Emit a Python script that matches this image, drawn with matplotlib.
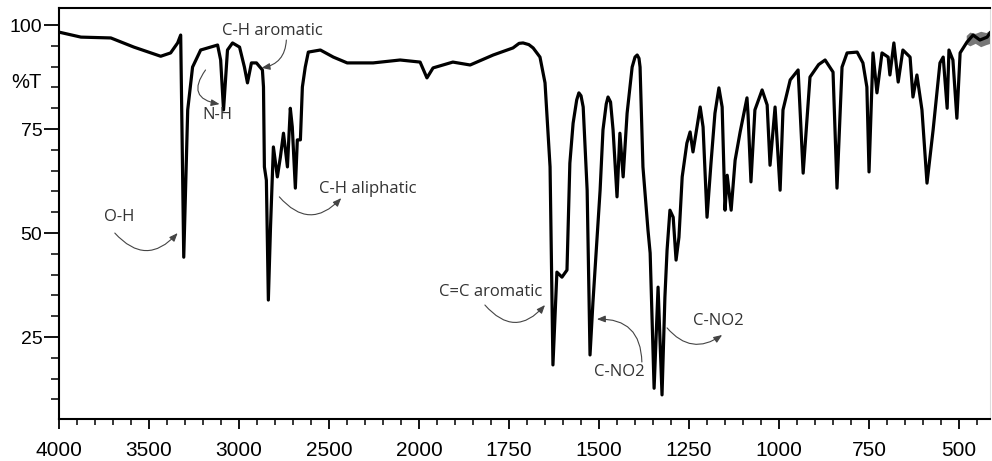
import matplotlib
matplotlib.use("Agg")
import matplotlib.pyplot as plt
import matplotlib.transforms as mtransforms
from matplotlib.ticker import FixedLocator, NullFormatter
import numpy as np

# Spectre IR (nombre d'onde en cm-1, transmittance en %)
nombre_onde = [4000, 3878, 3712, 3584, 3435, 3380, 3341, 3324, 3307, 3285,
               3258, 3213, 3119, 3102, 3086, 3064, 3036, 2997, 2970, 2953,
               2931, 2903, 2870, 2864, 2859, 2848, 2837, 2825, 2809, 2787,
               2770, 2753, 2731, 2715, 2704, 2687, 2676, 2659, 2648, 2632,
               2615, 2548, 2476, 2399, 2255, 2105, 1997, 1978, 1961, 1906,
               1858, 1794, 1739, 1722, 1711, 1695, 1683, 1664, 1650, 1636, 1628, 1617,
               1603, 1589, 1581, 1572, 1562, 1556, 1550, 1544, 1533, 1525, 1517, 1497,
               1489, 1480, 1475, 1468, 1461, 1450, 1442, 1433, 1422, 1408, 1400, 1394, 1389, 1386,
               1378, 1364, 1358, 1347, 1336, 1325, 1317, 1311, 1303, 1294,
               1286, 1278, 1269, 1256, 1247, 1239, 1228, 1219, 1211, 1200,
               1189, 1178, 1167, 1158, 1150, 1144, 1133, 1122, 1108, 1089,
               1086, 1078, 1067, 1047, 1033, 1025, 1011, 997, 989, 969,
               947, 933, 914, 890, 872, 850, 839, 825, 811, 783, 767,
               756, 750, 742, 739, 728, 714, 697, 692, 681, 669,
               656, 636, 628, 617, 603, 589, 572, 553, 544, 533,
               528, 517, 506, 497, 478, 461, 442, 422, 414]
transmittance = [98.3, 97.1, 96.9, 94.7, 92.5, 93.3, 95.7, 97.6, 44.2, 79.6,
                 89.9, 94.0, 95.2, 91.6, 79.6, 94.0, 95.7, 94.7, 89.9, 86.1,
                 90.9, 90.9, 89.2, 85.1, 65.9, 62.7, 33.9, 51.4, 70.7, 63.5,
                 68.3, 74.0, 65.9, 80.0, 75.5, 60.8, 72.4, 72.4, 85.1, 89.9,
                 93.5, 94.0, 92.3, 90.9, 90.9, 91.6, 91.1, 87.3, 89.7, 91.1,
                 90.4, 92.8, 94.5, 95.6, 95.7, 95.3, 94.5, 92.3, 86.1, 65.9, 18.3, 40.6,
                 39.4, 41.1, 66.8, 76.4, 82.0, 83.7, 83.0, 80.3, 60.3, 20.7, 33.2, 60.3,
                 74.8, 81.0, 82.7, 81.5, 74.8, 58.7, 74.0, 63.5, 78.8, 89.9, 92.3, 92.8, 92.0, 89.9,
                 65.9, 50.7, 45.2, 12.7, 37.0, 11.1, 34.6, 45.9, 55.5, 53.8,
                 43.5, 49.0, 63.5, 71.6, 74.3, 69.5, 75.5, 80.3, 75.5, 53.8,
                 66.8, 78.8, 84.9, 80.3, 55.5, 63.9, 55.5, 67.5, 74.3, 82.5,
                 78.4, 62.3, 79.6, 84.4, 80.8, 66.3, 80.3, 60.3, 79.6, 86.8,
                 89.2, 64.4, 87.5, 90.5, 91.6, 88.7, 60.8, 89.9, 93.3, 93.5, 90.9,
                 85.1, 64.7, 85.1, 93.3, 83.7, 93.3, 92.3, 88.0, 95.7, 86.3,
                 94.0, 92.3, 82.7, 88.0, 79.6, 62.0, 74.8, 90.9, 92.3, 80.0,
                 94.0, 91.6, 77.6, 93.3, 95.9, 97.6, 96.4, 97.1, 98.1]

# bande grise (bruit) en fin de spectre
bande_w = [480, 470, 455, 440, 425, 414]
bande_haut = [97.5, 98.3, 98.0, 98.5, 98.2, 98.8]
bande_bas = [95.5, 95.0, 95.6, 94.8, 95.3, 95.6]

# graduations
ticks_majeurs = [4000, 3500, 3000, 2500, 2000, 1750, 1500, 1250, 1000, 750, 500]
ticks_mineurs = list(range(4000, 2000, -100)) + list(range(2000, 449, -50))
ticks_y = [100, 75, 50, 25]
ticks_y_mineurs = list(range(10, 105, 5))

# annotations : texte, position du texte, debut fleche, fin fleche, courbure
labels = ["O-H", "N-H", "C-H aromatic", "C-H aliphatic", "C=C aromatic", "C-NO2", "C-NO2"]
pos_texte = [(3668, 53.8), (3119, 78.4), (2814, 98.6), (2283, 60.6), (1800, 35.8), (1444, 16.6), (1169, 28.8)]
debut_fleche = [(3690, 50.0), (3186, 89.2), (2737, 96.4), (2776, 58.7), (1817, 32.7), (1381, 19.0), (1311, 27.2)]
fin_fleche = [(3341, 50.0), (3108, 81.0), (2875, 89.7), (2432, 58.4), (1650, 32.7), (1506, 29.3), (1158, 25.5)]
courbure = [0.55, 0.8, -0.4, 0.55, 0.57, 0.5, 0.45]


def aller(w):
    w = np.asarray(w, dtype=float)
    return np.where(w <= 2000, w, 2000 + (w - 2000) * 0.5)


def retour(p):
    p = np.asarray(p, dtype=float)
    return np.where(p <= 2000, p, 2000 + (p - 2000) * 2.0)


police_axes = ['Liberation Sans', 'DejaVu Sans']
police_notes = ['Open Sans', 'Noto Sans', 'DejaVu Sans']

fig = plt.figure(figsize=(9.92, 4.61), dpi=100)
ax = fig.add_axes([59 / 992, 42 / 461, 931 / 992, 411 / 461])
ax.set_xscale('function', functions=(aller, retour))

ax.fill_between(bande_w, bande_bas, bande_haut, color='#777777', lw=0)
ax.plot(nombre_onde, transmittance, color='black', lw=2.3, solid_joinstyle='round')

ax.set_xlim(4000, 414)
ax.set_ylim(5.3, 104.1)

ax.xaxis.set_major_locator(FixedLocator(ticks_majeurs))
ax.xaxis.set_minor_locator(FixedLocator(ticks_mineurs))
ax.xaxis.set_minor_formatter(NullFormatter())
ax.set_xticklabels([str(t) for t in ticks_majeurs], family=police_axes, fontsize=15)
ax.yaxis.set_major_locator(FixedLocator(ticks_y))
ax.yaxis.set_minor_locator(FixedLocator(ticks_y_mineurs))
ax.set_yticklabels([str(t) for t in ticks_y], family=police_axes, fontsize=14)

ax.tick_params(axis='x', which='major', direction='out', length=7, width=1.3, pad=9)
ax.tick_params(axis='x', which='minor', direction='out', length=4, width=1.1)
ax.tick_params(axis='y', which='major', direction='out', length=11, width=1.3, pad=1)
ax.tick_params(axis='y', which='minor', direction='out', length=6, width=1.1)

for cote in ['left', 'bottom', 'top']:
    ax.spines[cote].set_linewidth(1.5)
ax.spines['right'].set_color('#dddddd')
ax.spines['right'].set_linewidth(0.8)

trans = mtransforms.blended_transform_factory(ax.transAxes, ax.transData)
ax.text(-0.0355, 86.3, '%T', transform=trans, ha='center', va='center',
        family=police_axes, fontsize=14.5)

for lab, pt, d, f, r in zip(labels, pos_texte, debut_fleche, fin_fleche, courbure):
    ax.text(pt[0], pt[1], lab, ha='center', va='center', family=police_notes,
            fontsize=12, color='#333333')
    ax.annotate('', xy=f, xytext=d,
                arrowprops=dict(arrowstyle='-|>,head_length=0.5,head_width=0.2',
                                connectionstyle='arc3,rad=%s' % r,
                                color='#444444', lw=0.8, shrinkA=0, shrinkB=0,
                                mutation_scale=10))

fig.savefig('out.png', dpi=100)
